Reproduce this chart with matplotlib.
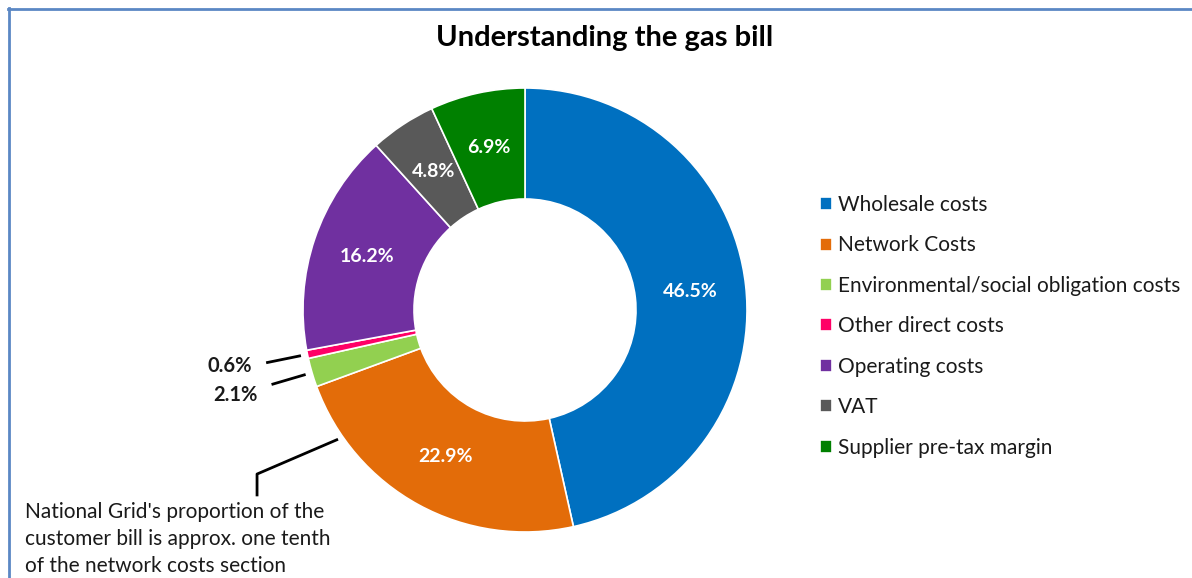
import numpy as np
import matplotlib.pyplot as plt
from matplotlib.lines import Line2D

plt.rcParams['font.family'] = ['Lato', 'DejaVu Sans']

categories = ["Wholesale costs", "Network Costs", "Environmental/social obligation costs",
              "Other direct costs", "Operating costs", "VAT", "Supplier pre-tax margin"]
shares = [46.5, 22.9, 2.1, 0.6, 16.2, 4.8, 6.9]
colors = ["#0070C0", "#E36C09", "#92D050", "#FF0066", "#7030A0", "#595959", "#008000"]
# small slices labelled outside, with a vertical nudge for the label
outside = {"Environmental/social obligation costs": -0.03, "Other direct costs": 0.0}

W, H = 1192, 578
fig = plt.figure(figsize=(W / 100, H / 100), dpi=100)

# donut: centre (525, 310) px, radius 222 px
cx, cy, r = 525, 310, 222
ax = fig.add_axes([(cx - r) / W, (H - cy - r) / H, 2 * r / W, 2 * r / H])
wedges, _ = ax.pie(shares, colors=colors, startangle=90, counterclock=False, radius=1,
                   wedgeprops=dict(width=0.5, edgecolor='white', linewidth=1.2))
ax.set_xlim(-1, 1)
ax.set_ylim(-1, 1)

for w, cat, v in zip(wedges, categories, shares):
    mid = np.deg2rad((w.theta1 + w.theta2) / 2)
    c, s = np.cos(mid), np.sin(mid)
    if cat in outside:
        ax.plot([1.03 * c, 1.19 * c], [1.03 * s, 1.19 * s], color='black', lw=2,
                solid_capstyle='butt', clip_on=False)
        ax.text(1.255 * c, 1.255 * s + outside[cat], f"{v}%", ha='right', va='center',
                fontsize=14.5, fontweight='bold', color='#1a1a1a', clip_on=False)
    else:
        ax.text(0.75 * c, 0.75 * s, f"{v}%", ha='center', va='center',
                fontsize=14, fontweight='bold', color='white')

# leader from the network costs wedge to the note
nw = wedges[1]
a = np.deg2rad(nw.theta1 + 0.175 * (nw.theta2 - nw.theta1))
ax.plot([1.03 * np.cos(a), -1.207, -1.207], [1.03 * np.sin(a), -0.739, -0.833],
        color='black', lw=2, clip_on=False)

fig.text(25 / W, 1 - 502 / H,
         "National Grid's proportion of the\ncustomer bill is approx. one tenth\nof the network costs section",
         ha='left', va='top', fontsize=15, linespacing=1.45, color='#1a1a1a')

fig.text(605 / W, 1 - 38 / H, "Understanding the gas bill", ha='center', va='center',
         fontsize=21, fontweight='bold', color='black')

fig.legend(wedges, categories, loc='upper left', bbox_to_anchor=(820 / W, 1 - 195 / H),
           frameon=False, fontsize=15, handlelength=0.58, handleheight=0.58,
           handletextpad=0.3, labelspacing=0.98, borderaxespad=0, borderpad=0,
           labelcolor='#1a1a1a')

# chart frame (top and left edges visible)
fig.add_artist(Line2D([8 / W, 1], [1 - 8.5 / H] * 2, transform=fig.transFigure,
                      color='#5b87c4', lw=2))
fig.add_artist(Line2D([8.5 / W] * 2, [0, 1 - 8 / H], transform=fig.transFigure,
                      color='#5b87c4', lw=2))

fig.savefig("out.png", dpi=100, facecolor='white')
